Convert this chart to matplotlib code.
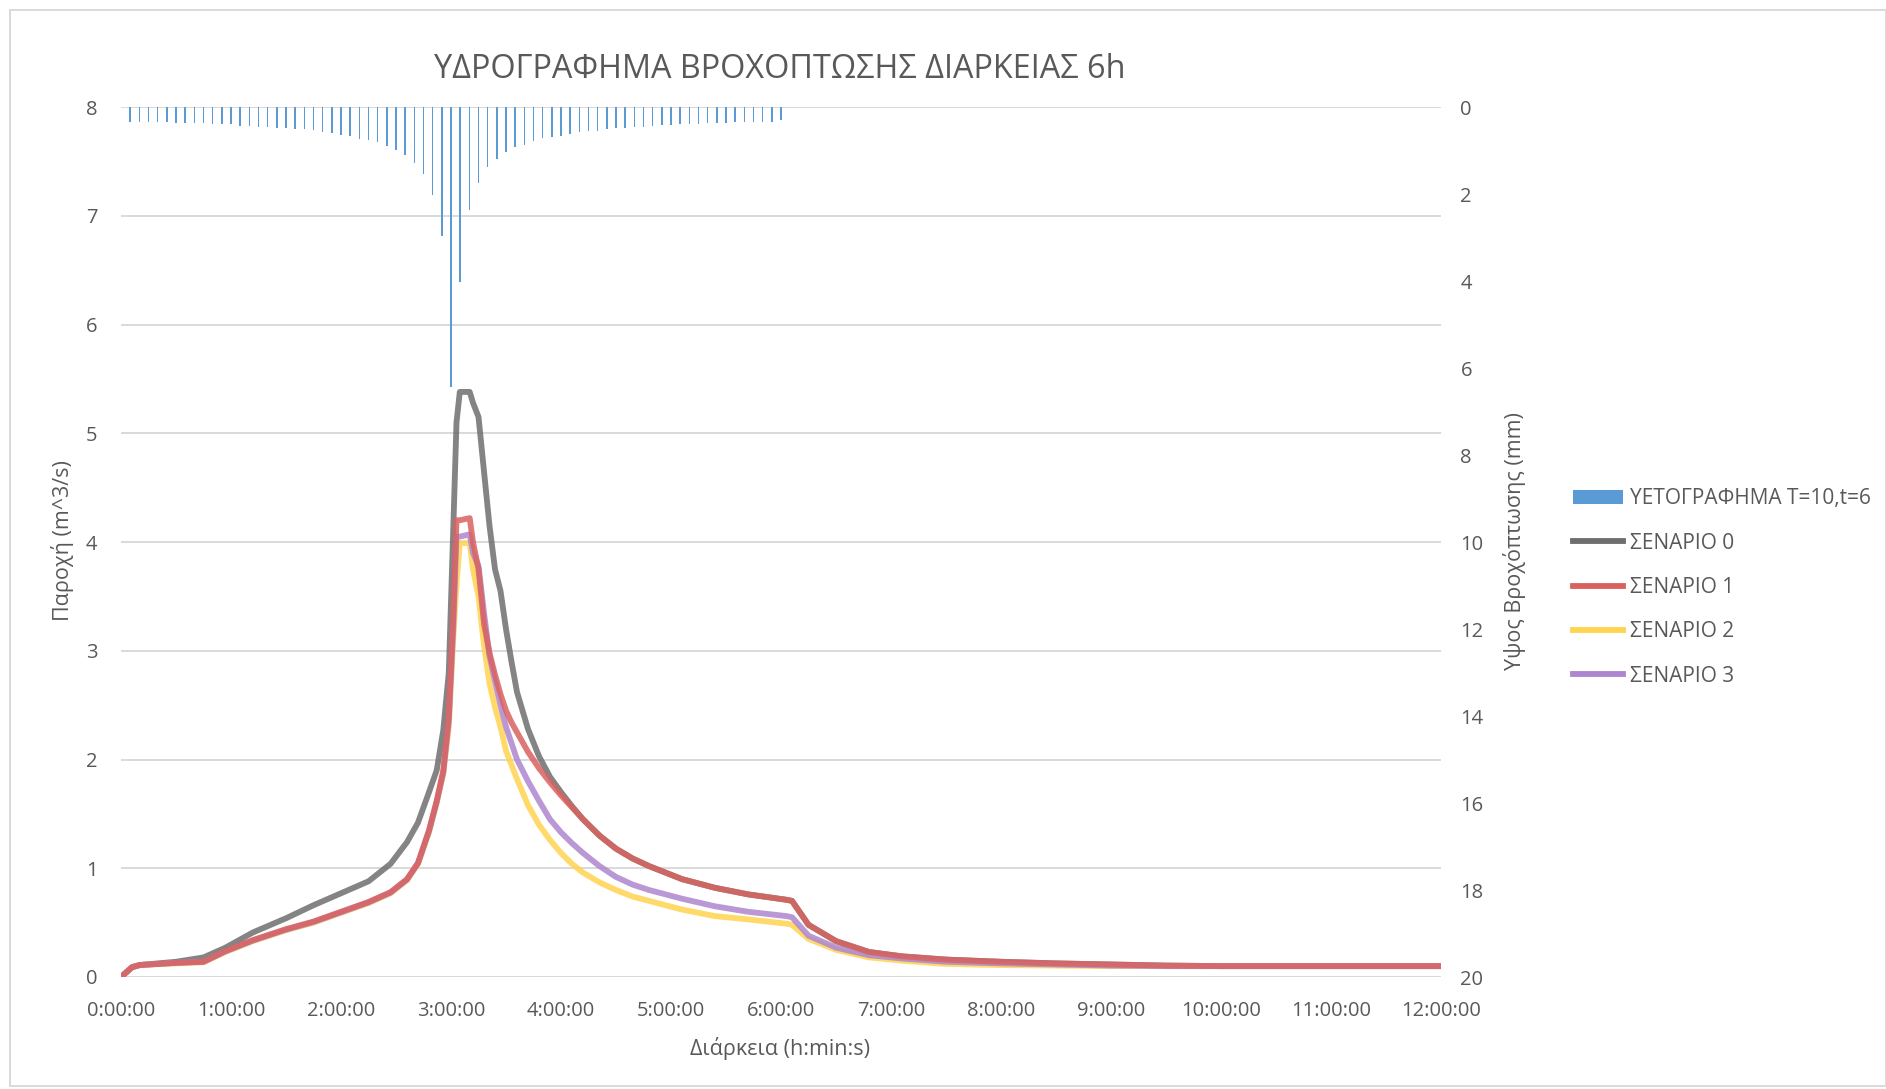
import numpy as np
import matplotlib
matplotlib.use("Agg")
import matplotlib.pyplot as plt
from matplotlib.lines import Line2D
from matplotlib.patches import Patch, Rectangle

plt.rcParams['font.family'] = ['Open Sans', 'DejaVu Sans']

# ---- data ----
# hyetograph: 5-min blocks, depth in mm
rain_t_min = np.arange(5, 361, 5)
rain_mm = [0.34, 0.34, 0.34, 0.34, 0.34, 0.375, 0.375, 0.375, 0.375, 0.40,
           0.40, 0.40, 0.43, 0.43, 0.46, 0.46, 0.49, 0.49, 0.51, 0.51,
           0.54, 0.575, 0.605, 0.636, 0.667, 0.728, 0.751, 0.812, 0.904, 0.981,
           1.11, 1.28, 1.54, 2.02, 2.96, 6.43, 4.02, 2.37, 1.75, 1.39,
           1.19, 1.04, 0.92, 0.87, 0.78, 0.72, 0.69, 0.66, 0.61, 0.575,
           0.56, 0.544, 0.513, 0.49, 0.48, 0.46, 0.455, 0.43, 0.425, 0.42,
           0.40, 0.395, 0.39, 0.37, 0.365, 0.36, 0.34, 0.34, 0.335, 0.335,
           0.335, 0.31]

# hydrographs: time in hours, discharge in m^3/s
t_h = [0, 0.1, 0.17, 0.5, 0.75, 0.95, 1.2, 1.5, 1.75, 2.0,
       2.25, 2.45, 2.6, 2.7, 2.8, 2.87, 2.93, 2.98, 3.02, 3.05,
       3.08, 3.17, 3.2, 3.25, 3.3, 3.35, 3.4, 3.45, 3.5, 3.55,
       3.6, 3.7, 3.8, 3.9, 4.0, 4.1, 4.2, 4.35, 4.5, 4.65,
       4.8, 5.1, 5.4, 5.7, 6.05, 6.1, 6.25, 6.5, 6.8, 7.1,
       7.5, 8.0, 8.5, 9.0, 9.5, 10.0, 11.0, 12.0]
q_s0 = [0, 0.09, 0.11, 0.14, 0.18, 0.27, 0.41, 0.54, 0.66, 0.77,
        0.88, 1.04, 1.24, 1.42, 1.70, 1.90, 2.27, 2.80, 4.10, 5.10,
        5.38, 5.38, 5.28, 5.15, 4.65, 4.15, 3.75, 3.55, 3.20, 2.90,
        2.62, 2.28, 2.03, 1.84, 1.70, 1.57, 1.45, 1.30, 1.18, 1.09,
        1.02, 0.90, 0.82, 0.76, 0.71, 0.70, 0.48, 0.33, 0.23, 0.19,
        0.16, 0.14, 0.125, 0.115, 0.105, 0.10, 0.10, 0.10]
q_s1 = [0, 0.09, 0.11, 0.13, 0.14, 0.24, 0.34, 0.44, 0.51, 0.60,
        0.69, 0.78, 0.90, 1.05, 1.35, 1.62, 1.90, 2.40, 3.30, 4.20,
        4.20, 4.22, 4.00, 3.75, 3.25, 2.98, 2.78, 2.60, 2.45, 2.34,
        2.25, 2.07, 1.92, 1.79, 1.67, 1.56, 1.45, 1.30, 1.18, 1.09,
        1.02, 0.90, 0.82, 0.76, 0.71, 0.70, 0.48, 0.33, 0.23, 0.19,
        0.16, 0.14, 0.125, 0.115, 0.105, 0.10, 0.10, 0.10]
q_s2 = [0, 0.09, 0.11, 0.125, 0.135, 0.23, 0.33, 0.43, 0.50, 0.59,
        0.68, 0.77, 0.89, 1.04, 1.33, 1.60, 1.87, 2.30, 3.10, 3.60,
        3.99, 3.99, 3.75, 3.50, 3.05, 2.70, 2.48, 2.30, 2.08, 1.95,
        1.82, 1.58, 1.40, 1.26, 1.14, 1.04, 0.96, 0.87, 0.80, 0.74,
        0.70, 0.62, 0.56, 0.53, 0.49, 0.48, 0.35, 0.25, 0.18, 0.15,
        0.12, 0.11, 0.105, 0.10, 0.10, 0.10, 0.10, 0.10]
q_s3 = [0, 0.09, 0.11, 0.13, 0.14, 0.235, 0.335, 0.435, 0.505, 0.595,
        0.685, 0.775, 0.895, 1.045, 1.34, 1.61, 1.88, 2.35, 3.20, 4.05,
        4.05, 4.07, 3.90, 3.78, 3.35, 2.95, 2.72, 2.50, 2.30, 2.15,
        2.00, 1.80, 1.62, 1.45, 1.33, 1.23, 1.14, 1.02, 0.92, 0.85,
        0.80, 0.72, 0.65, 0.60, 0.56, 0.55, 0.38, 0.27, 0.20, 0.17,
        0.14, 0.125, 0.115, 0.105, 0.10, 0.10, 0.10, 0.10]

hours = list(range(0, 13))
hour_labels = [f"{h}:00:00" for h in hours]

names = ['ΣΕΝΑΡΙΟ 0', 'ΣΕΝΑΡΙΟ 1', 'ΣΕΝΑΡΙΟ 2', 'ΣΕΝΑΡΙΟ 3']
colors = ['#6e6e6e', '#d9625f', '#ffd451', '#ae86cf']
rain_color = '#5b9bd5'
txt = '#595959'

W, H = 1886, 1089
fig = plt.figure(figsize=(W / 100, H / 100), dpi=100)
ax = fig.add_axes([121 / W, 1 - 977 / H, 1320 / W, 870 / H])

# draw order: grey, yellow, purple, red on top
order = [0, 2, 3, 1]
series = [q_s0, q_s1, q_s2, q_s3]
for i in order:
    ax.plot(t_h, series[i], color=colors[i], lw=4.2, alpha=0.85,
            solid_joinstyle='round', zorder=3)

ax.set_xlim(0, 12)
ax.set_ylim(0, 8)
ax.set_yticks(range(0, 9))
ax.set_xticks(hours)
ax.set_xticklabels(hour_labels)
ax.grid(axis='y', color='#d9d9d9', lw=1.4)
ax.set_axisbelow(True)
for s in ax.spines.values():
    s.set_visible(False)
ax.tick_params(axis='x', length=0, pad=17, labelsize=14.5, labelcolor=txt)
ax.tick_params(axis='y', length=0, pad=17, labelsize=14.5, labelcolor=txt)

ax2 = ax.twinx()
ax2.bar(rain_t_min / 60, rain_mm, width=0.013, color=rain_color, zorder=2)
ax2.set_ylim(20, 0)
ax2.set_yticks(range(0, 21, 2))
for s in ax2.spines.values():
    s.set_visible(False)
ax2.tick_params(axis='y', length=0, pad=14, labelsize=14.5, labelcolor=txt)

fig.text(780 / W, 1 - 69 / H, 'ΥΔΡΟΓΡΑΦΗΜΑ ΒΡΟΧΟΠΤΩΣΗΣ ΔΙΑΡΚΕΙΑΣ 6h',
         ha='center', va='center', fontsize=23.3, color=txt)
fig.text(780 / W, 1 - 1049 / H, 'Διάρκεια (h:min:s)',
         ha='center', va='center', fontsize=15.5, color=txt)
fig.text(63 / W, 1 - 541 / H, 'Παροχή (m^3/s)', rotation=90,
         ha='center', va='center', fontsize=15.5, color=txt)
fig.text(1515 / W, 1 - 541 / H, 'Υψος Βροχόπτωσης (mm)', rotation=90,
         ha='center', va='center', fontsize=15.5, color=txt)

handles = [Patch(facecolor=rain_color, edgecolor='none')]
handles += [Line2D([], [], color=c, lw=4.2) for c in colors]
labels = ['ΥΕΤΟΓΡΑΦΗΜΑ T=10,t=6'] + names
leg = fig.legend(handles, labels, loc='upper left',
                 bbox_to_anchor=(1565 / W, 1 - 480 / H), frameon=False,
                 fontsize=15, handlelength=2.4, handleheight=0.7,
                 handletextpad=0.3, labelspacing=1.12, borderaxespad=0)
for t in leg.get_texts():
    t.set_color(txt)

fig.patches.append(Rectangle((10 / W, 3 / H), 1 - 10 / W, 1 - 13 / H,
                             transform=fig.transFigure, fill=False,
                             edgecolor='#d9d9d9', lw=1.4))

fig.savefig('out.png', dpi=100)
